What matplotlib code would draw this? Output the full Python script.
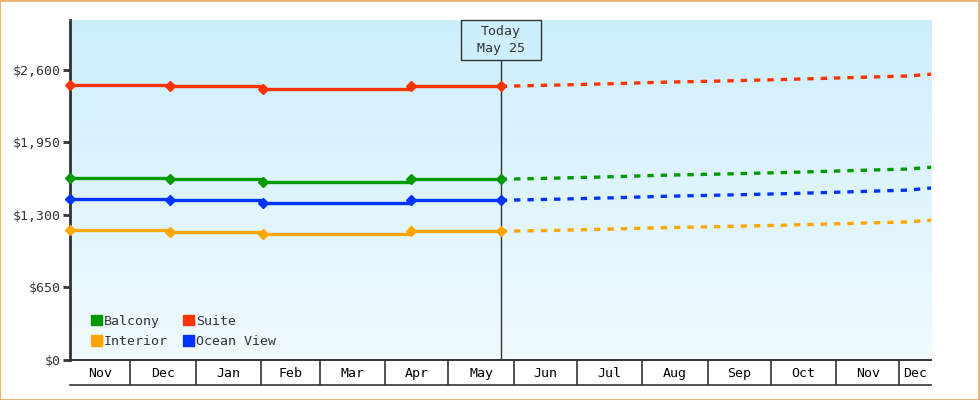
import datetime as dt
import numpy as np
import matplotlib
matplotlib.use('Agg')
import matplotlib.pyplot as plt
import matplotlib.patches as mpatches
import matplotlib.transforms as mtrans
from matplotlib.colors import LinearSegmentedColormap

plt.rcParams['font.family'] = ['DejaVu Sans Mono', 'DejaVu Sans']

# - - DATA - -
today = dt.datetime(2025, 5, 25, 20)
x_start = dt.datetime(2024, 11, 2, 10)
x_end = dt.datetime(2025, 12, 16)

hist_dates = [x_start, dt.datetime(2024, 12, 20), dt.datetime(2025, 2, 2),
              dt.datetime(2025, 4, 13), today]
balcony_hist = [1632, 1620, 1593, 1620, 1620]
interior_hist = [1166, 1145, 1127, 1154, 1154]
suite_hist = [2465, 2457, 2430, 2454, 2454]
ocean_hist = [1443, 1432, 1405, 1432, 1432]

fc_dates = [today, dt.datetime(2025, 6, 20), dt.datetime(2025, 7, 20),
            dt.datetime(2025, 8, 10), dt.datetime(2025, 9, 10),
            dt.datetime(2025, 10, 10), dt.datetime(2025, 11, 1),
            dt.datetime(2025, 12, 5), x_end]
balcony_fc = [1620, 1630, 1644, 1656, 1668, 1682, 1694, 1712, 1728]
interior_fc = [1154, 1162, 1175, 1186, 1197, 1210, 1221, 1238, 1254]
suite_fc = [2454, 2464, 2478, 2490, 2502, 2516, 2528, 2546, 2562]
ocean_fc = [1432, 1441, 1455, 1467, 1479, 1492, 1504, 1523, 1542]

month_starts = [dt.datetime(2024, 11, 1), dt.datetime(2024, 12, 1),
                dt.datetime(2025, 1, 1), dt.datetime(2025, 2, 1),
                dt.datetime(2025, 3, 1), dt.datetime(2025, 4, 1),
                dt.datetime(2025, 5, 1), dt.datetime(2025, 6, 1),
                dt.datetime(2025, 7, 1), dt.datetime(2025, 8, 1),
                dt.datetime(2025, 9, 1), dt.datetime(2025, 10, 1),
                dt.datetime(2025, 11, 1), dt.datetime(2025, 12, 1)]
month_names = ['Nov', 'Dec', 'Jan', 'Feb', 'Mar', 'Apr', 'May',
               'Jun', 'Jul', 'Aug', 'Sep', 'Oct', 'Nov', 'Dec']

y_ticks = [0, 650, 1300, 1950, 2600]
y_labels = ['$0', '$650', '$1,300', '$1,950', '$2,600']

series = [
    ('Balcony', '#009900', balcony_hist, balcony_fc),
    ('Interior', '#ffa500', interior_hist, interior_fc),
    ('Suite', '#ff3300', suite_hist, suite_fc),
    ('Ocean View', '#0033ff', ocean_hist, ocean_fc),
]

DARK = '#333333'

# - - FIGURE - -
fig = plt.figure(figsize=(9.8, 4.0), dpi=100)
fig.patch.set_facecolor('white')
fig.patches.append(mpatches.Rectangle((0.0005, 0.001), 0.998, 0.997, transform=fig.transFigure,
                                      fill=False, ec='#e8a65f', lw=1.2))

rect = [70 / 980, 40 / 400, 861 / 980, 340 / 400]

# gradient background
bg = fig.add_axes(rect, zorder=0)
cmap = LinearSegmentedColormap.from_list('sky', ['#f0faff', '#cdeffc'])
bg.imshow(np.linspace(0, 1, 256).reshape(-1, 1), cmap=cmap, aspect='auto',
          origin='lower', extent=(0, 1, 0, 1))
bg.axis('off')

ax = fig.add_axes(rect, zorder=1)
ax.patch.set_alpha(0)
ax.set_xlim(x_start, x_end)
ax.set_ylim(0, 3048)

for name, color, hist, fc in series:
    ax.plot(hist_dates, hist, color=color, lw=2.4, drawstyle='steps-post',
            marker='D', markersize=4.8, clip_on=False, zorder=3)
    ax.plot(fc_dates, fc, color=color, lw=2.4, dashes=(1.9, 2.1),
            dash_capstyle='butt', zorder=3)

# today marker
ax.axvline(today, ymin=0, ymax=(360 - 60) / 340, color=DARK, lw=1, zorder=2)
half = dt.timedelta(days=19)
blend = mtrans.blended_transform_factory(ax.transData, ax.transAxes)
ax.add_patch(mpatches.Rectangle((today - half, (360 - 60) / 340), 2 * half, 40 / 340,
                                transform=blend, fc='#cdeffc', ec=DARK, lw=1,
                                clip_on=False, zorder=4))
ax.text(today, (360 - 40) / 340, 'Today\nMay 25', transform=blend, ha='center',
        va='center', fontsize=9.5, color=DARK, linespacing=1.35, zorder=5)

# axes styling
for s in ['top', 'right']:
    ax.spines[s].set_visible(False)
ax.spines['left'].set_color(DARK)
ax.spines['left'].set_linewidth(2)
ax.spines['bottom'].set_color(DARK)
ax.spines['bottom'].set_linewidth(1.2)
ax.set_yticks(y_ticks, y_labels)
ax.tick_params(axis='y', length=5, width=2, color=DARK, labelsize=9.5,
               labelcolor=DARK, pad=2)
ax.set_xticks([])

# legend
handles = [mpatches.Patch(color=c, label=n) for n, c, _, _ in series]
ax.legend(handles=handles, ncol=2, loc='lower left', frameon=False,
          bbox_to_anchor=((91 - 70) / 861, (360 - 348) / 340),
          borderpad=0, borderaxespad=0, handlelength=0.85, handleheight=0.85,
          handletextpad=0.15, columnspacing=1.1, labelspacing=0.55,
          prop={'size': 9.5}, labelcolor=DARK)

# month band
band = fig.add_axes([70 / 980, 15 / 400, 861 / 980, 25 / 400], zorder=1)
band.set_xlim(x_start, x_end)
band.set_ylim(0, 1)
band.set_yticks([])
band.set_xticks([])
band.patch.set_alpha(0)
for s in ['left', 'right']:
    band.spines[s].set_visible(False)
for s in ['top', 'bottom']:
    band.spines[s].set_color(DARK)
    band.spines[s].set_linewidth(1.2)
for m in month_starts[1:]:
    band.axvline(m, color=DARK, lw=1.2)
edges = [x_start] + month_starts[1:] + [x_end]
for i, name in enumerate(month_names):
    mid = edges[i] + (edges[i + 1] - edges[i]) / 2
    band.text(mid, 0.45, name, ha='center', va='center', fontsize=9.5, color='black')

fig.savefig('out.png', dpi=100)
